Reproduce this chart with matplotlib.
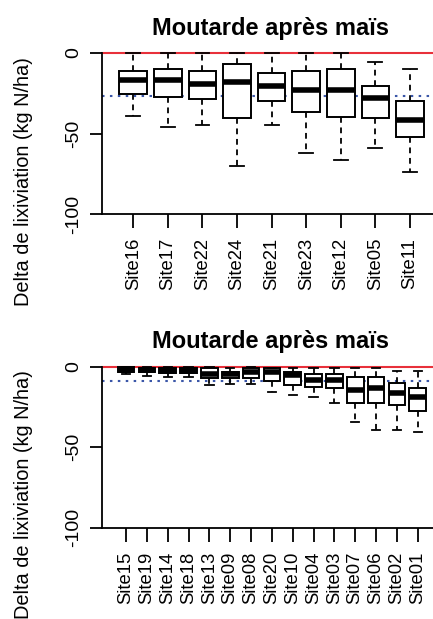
import matplotlib
matplotlib.use("Agg")
import matplotlib.pyplot as plt

plt.rcParams['font.family'] = ['Liberation Sans', 'DejaVu Sans']

title = "Moutarde après maïs"
ylabel = "Delta de lixiviation (kg N/ha)"
yticks = [0, -50, -100]
yticklabels = ["0", "-50", "-100"]

sites_top = ['Site16', 'Site17', 'Site22', 'Site24', 'Site21', 'Site23', 'Site12', 'Site05', 'Site11']
whishi_top = [0, 0, 0, 0, 0, 0, 0, -5.8, -10.1]
q3_top = [-11.2, -10.1, -11.6, -6.8, -12.6, -11.6, -10.1, -20.5, -29.8]
med_top = [-17.2, -17.2, -19.5, -18.2, -20.5, -23.0, -23.0, -28.2, -41.6]
q1_top = [-25.7, -27.5, -28.8, -40.6, -30.0, -36.9, -39.5, -40.6, -52.0]
whislo_top = [-39.2, -46.2, -44.9, -70.2, -44.9, -62.3, -66.5, -58.8, -73.7]
mean_top = -26.5

sites_bot = ['Site15', 'Site19', 'Site14', 'Site18', 'Site13', 'Site09', 'Site08', 'Site20',
             'Site10', 'Site04', 'Site03', 'Site07', 'Site06', 'Site02', 'Site01']
whishi_bot = [0, 0, 0, 0, 0, -0.8, 0, -0.5, -1, -1, -1, -1, -1, -2.5, -2.5]
q3_bot = [-0.3, -0.5, -0.5, -0.5, -1.0, -3.0, -1.0, -0.5, -3.1, -4.5, -4.5, -6.6, -6.6, -9.9, -13.0]
med_bot = [-2.0, -2.0, -2.5, -2.5, -4.5, -4.5, -3.5, -3.1, -5.2, -8.3, -8.3, -14.5, -13.4, -16.6, -19.0]
q1_bot = [-3.5, -3.5, -4.0, -4.0, -7.2, -7.0, -7.0, -8.7, -11.4, -12.4, -13.4, -22.4, -22.8, -23.8, -27.8]
whislo_bot = [-4.5, -5.6, -6.2, -6.2, -11.4, -10.5, -10.8, -15.5, -17.8, -18.6, -22.4, -34.1, -39.3, -39.3, -40.8]
mean_bot = -9.1

W, H = 433, 619
fig = plt.figure(figsize=(W / 100, H / 100), dpi=100)

def px_axes(x0, x1, ytop, ybot):
    return [x0 / W, 1 - ybot / H, (x1 - x0) / W, (ybot - ytop) / H]

def draw(ax, sites, whishi, q3, med, q1, whislo, mean, xlim):
    stats = []
    for s, hi, a, m, b, lo in zip(sites, whishi, q3, med, q1, whislo):
        stats.append(dict(label=s, whishi=hi, q3=a, med=m, q1=b, whislo=lo, fliers=[]))
    ax.axhline(0, color='#e8303a', lw=1.5, zorder=1, clip_on=False)
    ax.axhline(mean, color='#3a56a8', lw=1.5, ls=(0, (1.2, 2.6)), zorder=1)
    pos = list(range(1, len(sites) + 1))
    bp = ax.bxp(stats, positions=pos, widths=0.8, patch_artist=True, showfliers=False,
                boxprops=dict(facecolor='white', edgecolor='black', linewidth=1.4),
                medianprops=dict(color='black', linewidth=4.0, solid_capstyle='butt'),
                whiskerprops=dict(color='black', linewidth=1.3, linestyle=(0, (3.2, 2.6))),
                capprops=dict(color='black', linewidth=1.3),
                manage_ticks=False, zorder=3)
    for k in ('boxes', 'medians', 'whiskers', 'caps'):
        for art in bp[k]:
            art.set_clip_on(False)
            art.set_zorder(3)
    ax.set_xlim(*xlim)
    ax.set_ylim(-100, 0)
    ax.set_xticks(pos)
    ax.set_xticklabels(sites, rotation=90, fontsize=13.3)
    ax.set_yticks(yticks)
    ax.set_yticklabels(yticklabels, rotation=90, va='center', fontsize=14)
    for side in ('top', 'right'):
        ax.spines[side].set_visible(False)
    for side in ('left', 'bottom'):
        ax.spines[side].set_linewidth(1.3)
    ax.tick_params(axis='x', length=10, width=1.3, pad=7)
    ax.tick_params(axis='y', length=8.3, width=1.3, pad=6)

ax1 = fig.add_axes(px_axes(101.7, 440, 52.7, 214.3))
draw(ax1, sites_top, whishi_top, q3_top, med_top, q1_top, whislo_top, mean_top,
     (1 - (133.3 - 101.7) / 34.59, 9 + (440 - 410) / 34.59))

ax2 = fig.add_axes(px_axes(101.7, 440, 366.7, 527.7))
draw(ax2, sites_bot, whishi_bot, q3_bot, med_bot, q1_bot, whislo_bot, mean_bot,
     (1 - (126 - 101.7) / 20.836, 15 + (440 - 417.7) / 20.836))

fig.text(270 / W, 1 - 35 / H, title, ha='center', va='baseline', fontsize=17, fontweight='bold')
fig.text(270 / W, 1 - 348.3 / H, title, ha='center', va='baseline', fontsize=17, fontweight='bold')
fig.text(24 / W, 1 - 57 / H, ylabel, rotation=90, ha='center', va='top', fontsize=14.4)
fig.text(24 / W, 1 - 370 / H, ylabel, rotation=90, ha='center', va='top', fontsize=14.4)

fig.savefig("out.png", dpi=100)
